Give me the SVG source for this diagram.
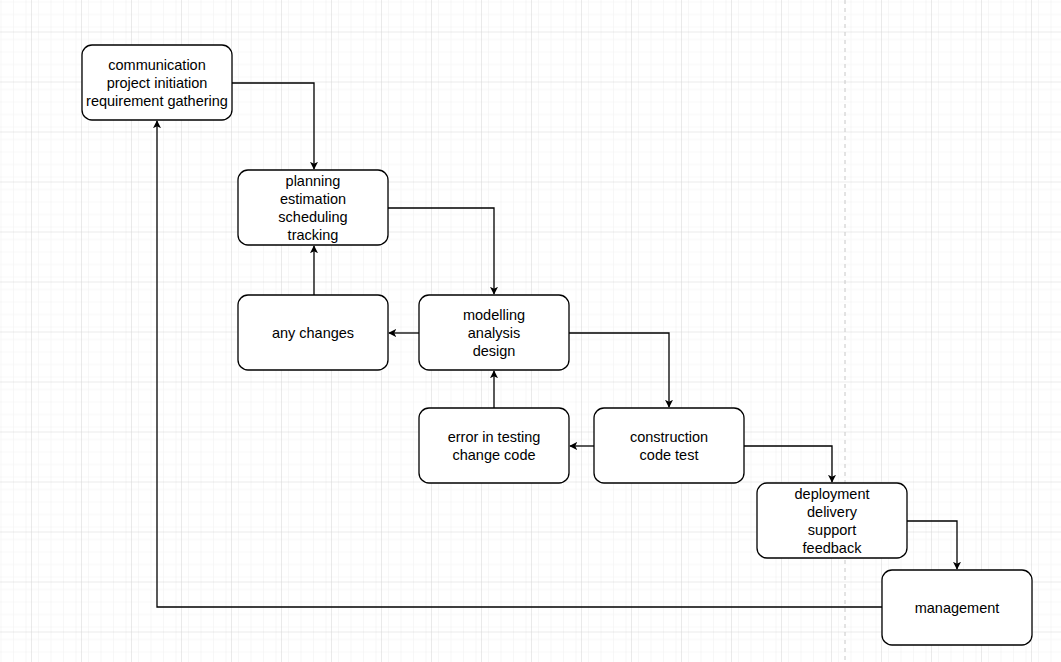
<svg xmlns="http://www.w3.org/2000/svg" width="1061" height="662" viewBox="0 0 1061 662">
<defs>
<pattern id="minor" x="7" y="7.5" width="12.5" height="12.5" patternUnits="userSpaceOnUse"><path d="M12.5 0V12.5H0" fill="none" stroke="#efefef" stroke-width="1"/></pattern>
<pattern id="major" x="-18" y="-17.5" width="50" height="50" patternUnits="userSpaceOnUse"><rect width="50" height="50" fill="url(#minor)"/><path d="M50 0V50H0" fill="none" stroke="#d4d4d4" stroke-width="1"/></pattern>
<marker id="ar" viewBox="0 0 10 10" refX="9" refY="5" markerWidth="8" markerHeight="8" orient="auto" markerUnits="userSpaceOnUse"><path d="M0 0L10 5L0 10L2.5 5Z" fill="#000"/></marker>
</defs>
<style>
.n rect{fill:#fff;stroke:#000;stroke-width:1.3}
.n text{font-family:"Liberation Sans",Arial,sans-serif;font-size:14.5px;text-anchor:middle;fill:#000}
.c path{fill:none;stroke:#000;stroke-width:1.3;marker-end:url(#ar)}
</style>
<rect width="1061" height="662" fill="#fff"/>
<rect width="1061" height="662" fill="url(#major)"/>
<line x1="845" y1="0" x2="845" y2="662" stroke="#c8c8c8" stroke-dasharray="4 4"/>
<g class="c">
<path d="M232 83H314V169"/>
<path d="M388 208H494V294"/>
<path d="M419 333H389"/>
<path d="M314 295V246"/>
<path d="M569 333H669V407"/>
<path d="M594 446H570"/>
<path d="M494 408V371"/>
<path d="M744 446H832V482"/>
<path d="M907 521H957V569"/>
<path d="M882 607H157V121"/>
</g>
<g id="n1" class="n"><rect x="82" y="45" width="150" height="75" rx="10"/><text x="157" y="70">communication</text><text x="157" y="88">project initiation</text><text x="157" y="106">requirement gathering</text></g>
<g id="n2" class="n"><rect x="238" y="170" width="150" height="75" rx="10"/><text x="313" y="186">planning</text><text x="313" y="204">estimation</text><text x="313" y="222">scheduling</text><text x="313" y="240">tracking</text></g>
<g id="n3" class="n"><rect x="238" y="295" width="150" height="75" rx="10"/><text x="313" y="338">any changes</text></g>
<g id="n4" class="n"><rect x="419" y="295" width="150" height="75" rx="10"/><text x="494" y="320">modelling</text><text x="494" y="338">analysis</text><text x="494" y="356">design</text></g>
<g id="n5" class="n"><rect x="419" y="408" width="150" height="75" rx="10"/><text x="494" y="442">error in testing</text><text x="494" y="460">change code</text></g>
<g id="n6" class="n"><rect x="594" y="408" width="150" height="75" rx="10"/><text x="669" y="442">construction</text><text x="669" y="460">code test</text></g>
<g id="n7" class="n"><rect x="757" y="483" width="150" height="75" rx="10"/><text x="832" y="499">deployment</text><text x="832" y="517">delivery</text><text x="832" y="535">support</text><text x="832" y="553">feedback</text></g>
<g id="n8" class="n"><rect x="882" y="570" width="150" height="75" rx="10"/><text x="957" y="613">management</text></g>
</svg>
